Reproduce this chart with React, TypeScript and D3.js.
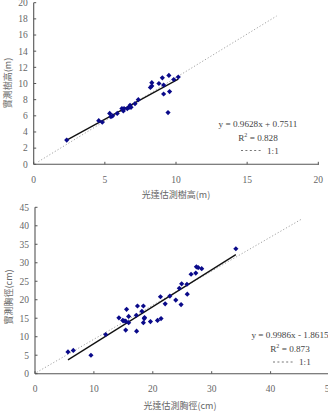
import React from "react";
import * as d3 from "d3";

// Tree height: LiDAR-estimated (x) vs. field-measured (y), metres
const heightEst = [2.32, 4.57, 4.82, 5.34, 5.43, 5.55, 5.87, 6.2, 6.3, 6.35, 6.58, 6.7, 6.77, 6.84, 7.12, 7.35, 8.2, 8.3, 8.3, 8.8, 9.04, 9.13, 9.13, 9.44, 9.5, 9.55, 9.84, 10.16];
const heightObs = [3.0, 5.4, 5.2, 6.3, 5.9, 6.0, 6.3, 6.9, 6.6, 6.9, 6.9, 7.05, 7.3, 7.05, 7.5, 8.0, 9.5, 10.1, 9.7, 10.0, 10.7, 9.8, 8.7, 6.4, 11.0, 9.0, 10.5, 10.8];

// DBH: LiDAR-estimated (x) vs. field-measured (y), centimetres
const dbhEst = [5.6, 6.5, 9.5, 12.0, 14.25, 14.9, 15.1, 15.4, 15.4, 15.55, 15.9, 15.9, 17.2, 17.25, 17.4, 18.15, 18.4, 18.4, 18.55, 18.6, 19.6, 20.8, 21.3, 21.4, 22.1, 22.9, 23.9, 24.5, 24.8, 24.9, 25.8, 25.85, 26.5, 27.3, 27.4, 27.7, 28.3, 34.1];
const dbhObs = [5.9, 6.3, 5.0, 10.6, 15.1, 14.4, 14.3, 11.8, 14.2, 17.4, 15.5, 13.8, 15.8, 11.5, 18.3, 16.9, 13.8, 18.3, 14.9, 15.2, 14.1, 14.4, 20.8, 14.9, 18.9, 21.0, 19.9, 23.1, 18.7, 24.3, 24.2, 21.5, 26.9, 27.2, 28.9, 28.7, 28.4, 33.8];

const heightXTicks = [0, 5, 10, 15, 20];
const heightYTicks = [0, 2, 4, 6, 8, 10, 12, 14, 16, 18, 20];
const dbhXTicks = [0, 10, 20, 30, 40, 50];
const dbhYTicks = [0, 5, 10, 15, 20, 25, 30, 35, 40, 45];

// Fitted regressions
const heightFit = { slope: 0.9628, intercept: 0.7511, r2: "0.828", label: "y = 0.9628x + 0.7511" };
const dbhFit = { slope: 0.9986, intercept: -1.8615, r2: "0.873", label: "y = 0.9986x - 1.8615" };

// 1:1 reference line endpoints as drawn
const heightRef = [[0.33, 0.33], [17.07, 18.35]];
const dbhRef = [[0.28, 0.36], [45.2, 41.75]];

const NUM_FONT = "'Liberation Serif', 'DejaVu Serif', serif";
const CJK_FONT = "'Noto Sans CJK TC', 'Noto Sans CJK SC', sans-serif";
const AXIS = "#555";
const TEXT = "#666";
const MARK = "#0a0a8a";

type PanelProps = {
  xs: number[];
  ys: number[];
  xDomain: [number, number];
  xRange: [number, number];
  yDomain: [number, number];
  yRange: [number, number];
  axisRight: number;
  xTicks: number[];
  yTicks: number[];
  fit: { slope: number; intercept: number; r2: string; label: string };
  ref: number[][];
  xLabel: string;
  yLabel: string;
  xLabelPos: [number, number];
  yLabelPos: [number, number];
  eqPos: [number, number];
};

function Panel(p: PanelProps) {
  const x = d3.scaleLinear().domain(p.xDomain).range(p.xRange);
  const y = d3.scaleLinear().domain(p.yDomain).range(p.yRange);
  const x0 = x(0);
  const y0 = y(0);
  const yTop = y(p.yDomain[1]);
  const fx = d3.extent(p.xs) as [number, number];
  const fitLine = d3.line<number>().x((v) => x(v)).y((v) => y(p.fit.slope * v + p.fit.intercept));
  const refLine = d3.line<number[]>().x((d) => x(d[0])).y((d) => y(d[1]));
  const diamond = d3.symbol().type(d3.symbolDiamond2).size(17)() as string;
  const [ex, ey] = p.eqPos;
  return (
    <g>
      <path d={refLine(p.ref) as string} fill="none" stroke="#999" strokeWidth={0.9} strokeDasharray="1.2,2" />
      <path d={fitLine([fx[0], fx[1]]) as string} fill="none" stroke="#111" strokeWidth={1.3} />
      {p.xs.map((v, i) => (
        <path key={i} d={diamond} transform={`translate(${x(v)},${y(p.ys[i])})`} fill={MARK} />
      ))}
      {/* axes */}
      <line x1={x0} x2={x0} y1={yTop} y2={y0} stroke={AXIS} strokeWidth={1.1} />
      <line x1={x0} x2={p.axisRight} y1={y0} y2={y0} stroke={AXIS} strokeWidth={1.1} />
      {p.yTicks.map((t) => (
        <g key={"y" + t}>
          <line x1={x0} x2={x0 + 2.5} y1={y(t)} y2={y(t)} stroke={AXIS} strokeWidth={1} />
          <text x={x0 - 6} y={y(t)} dy="0.35em" textAnchor="end" fontFamily={NUM_FONT} fontSize={9.5} fill={TEXT}>
            {t}
          </text>
        </g>
      ))}
      {p.xTicks.map((t) => (
        <g key={"x" + t}>
          <line x1={x(t)} x2={x(t)} y1={y0} y2={y0 - 2.5} stroke={AXIS} strokeWidth={1} />
          <text x={x(t)} y={y0 + 15} dy="0.35em" textAnchor="middle" fontFamily={NUM_FONT} fontSize={9.5} fill={TEXT}>
            {t}
          </text>
        </g>
      ))}
      <text x={p.xLabelPos[0]} y={p.xLabelPos[1]} dy="0.35em" textAnchor="middle" fontFamily={CJK_FONT} fontSize={9} fill={TEXT}>
        {p.xLabel}
      </text>
      <text
        transform={`translate(${p.yLabelPos[0]},${p.yLabelPos[1]}) rotate(-90)`}
        dy="0.35em"
        textAnchor="middle"
        fontFamily={CJK_FONT}
        fontSize={9}
        fill={TEXT}
      >
        {p.yLabel}
      </text>
      {/* regression annotation */}
      <text x={ex} y={ey} dy="0.35em" textAnchor="middle" fontFamily={NUM_FONT} fontSize={9.2} fill="#444">
        {p.fit.label}
      </text>
      <text x={ex} y={ey + 14} dy="0.35em" textAnchor="middle" fontFamily={NUM_FONT} fontSize={9.2} fill="#444">
        R<tspan dy="-4" fontSize={6}>2</tspan>
        <tspan dy="4"> = {p.fit.r2}</tspan>
      </text>
      <line x1={ex - 17} x2={ex + 4} y1={ey + 27} y2={ey + 27} stroke="#666" strokeWidth={0.9} strokeDasharray="2,2.4" />
      <text x={ex + 9} y={ey + 27} dy="0.35em" textAnchor="start" fontFamily={NUM_FONT} fontSize={9.2} fill="#444">
        1:1
      </text>
    </g>
  );
}

export default function App() {
  return (
    <svg width={328} height={411} style={{ position: "absolute", left: 0, top: 0, background: "#fff" }}>
      <Panel
        xs={heightEst}
        ys={heightObs}
        xDomain={[0, 20]}
        xRange={[33.7, 318.3]}
        yDomain={[0, 20]}
        yRange={[164.3, 2.7]}
        axisRight={319}
        xTicks={heightXTicks}
        yTicks={heightYTicks}
        fit={heightFit}
        ref={heightRef}
        xLabel="光達估測樹高(m)"
        yLabel="實測樹高(m)"
        xLabelPos={[176, 195]}
        yLabelPos={[8, 83]}
        eqPos={[258, 123.5]}
      />
      <Panel
        xs={dbhEst}
        ys={dbhObs}
        xDomain={[0, 50]}
        xRange={[35, 329.5]}
        yDomain={[0, 45]}
        yRange={[373.7, 207.3]}
        axisRight={328}
        xTicks={dbhXTicks}
        yTicks={dbhYTicks}
        fit={dbhFit}
        ref={dbhRef}
        xLabel="光達估測胸徑(cm)"
        yLabel="實測胸徑(cm)"
        xLabelPos={[180, 406]}
        yLabelPos={[9, 297]}
        eqPos={[290, 335]}
      />
    </svg>
  );
}
